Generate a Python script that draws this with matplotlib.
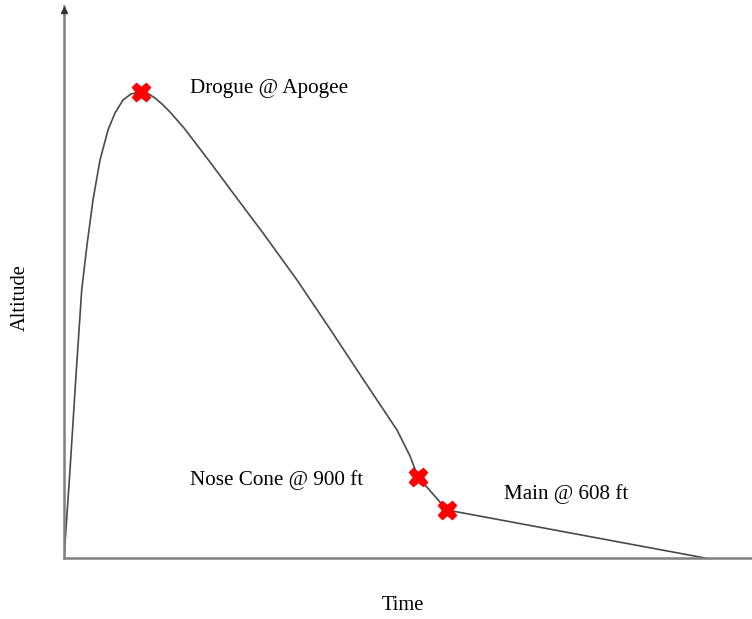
import matplotlib.pyplot as plt

# flight profile (arbitrary units, no scale shown)
time = [0, 6, 11.7, 17.7, 23, 29, 36, 44, 51, 59, 67, 76.7,
        84, 91, 98, 106, 120, 133, 149, 166, 199, 233, 266, 299, 333, 346,
        354, 383, 641]
altitude = [0, 88, 178, 268, 313, 358, 398, 428, 445, 458, 464, 466.3,
            464.5, 460, 454, 446, 430, 413, 392, 369, 325, 278, 229, 179, 128, 102,
            81, 48, 0]

# deployment events
event_time = [76.7, 354, 383]
event_alt = [466.3, 81, 48]
event_labels = ["Drogue @ Apogee", "Nose Cone @ 900 ft", "Main @ 608 ft"]
label_pos = [(126, 469), (126, 78), (440, 64)]

fig = plt.figure(figsize=(7.52, 6.19), dpi=100)
ax = fig.add_axes([64 / 752, 61 / 619, 1 - 64 / 752, 552 / 619])

ax.plot(time, altitude, color="#4a4a4a", lw=1.2, zorder=2)
ax.plot(event_time, event_alt, "X", color="#ff0000", ms=13, mec="#ff0000", zorder=3)

for lab, (x, y) in zip(event_labels, label_pos):
    ax.text(x, y, lab, family="Liberation Serif", fontsize=15.2, va="center", ha="left")

ax.set_xlim(0, 688)
ax.set_ylim(0, 552)
ax.set_xticks([])
ax.set_yticks([])
for side in ["top", "right"]:
    ax.spines[side].set_visible(False)
for side in ["left", "bottom"]:
    ax.spines[side].set_color("#808080")
    ax.spines[side].set_linewidth(1.8)

# arrow head on the altitude axis
ax.plot([0], [548], marker="^", color="#333333", ms=5, clip_on=False, zorder=4)

fig.text(403 / 752, 1 - 606 / 619, "Time", family="Liberation Serif", fontsize=14.8,
         ha="center", va="center")
fig.text(20 / 752, 1 - 298 / 619, "Altitude", family="Liberation Serif", fontsize=14.8,
         ha="center", va="center", rotation=90)

fig.savefig("out.png", dpi=100)
